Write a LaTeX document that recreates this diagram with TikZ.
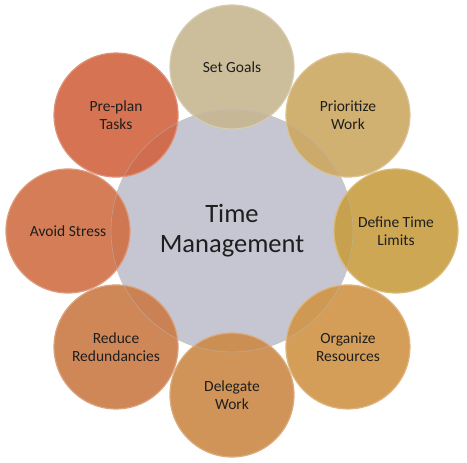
\documentclass[tikz,border=0pt]{standalone}
\usepackage{fontspec}
\setmainfont{Carlito}
\usepackage{tikz}
\usetikzlibrary{calc}

\definecolor{hub}{RGB}{198,198,210}
\definecolor{goals}{RGB}{198,182,144}
\definecolor{prio}{RGB}{204,168,98}
\definecolor{limits}{RGB}{200,157,64}
\definecolor{organ}{RGB}{208,148,70}
\definecolor{deleg}{RGB}{204,136,70}
\definecolor{reduce}{RGB}{203,122,70}
\definecolor{avoid}{RGB}{207,111,68}
\definecolor{preplan}{RGB}{208,100,64}
\definecolor{ink}{RGB}{30,30,30}

\begin{document}
\begin{tikzpicture}[x=1pt,y=1pt,text=ink]
  \tikzstyle{hubcircle}=[circle,draw=white!80!black,line width=1.2pt,fill=hub,
                         minimum size=242pt,inner sep=0pt,align=center,
                         font=\fontsize{26.5}{30}\selectfont]
  \tikzstyle{petal}=[circle,line width=1.2pt,fill opacity=0.9,text opacity=1,
                     minimum size=124pt,inner sep=0pt,align=center,
                     font=\fontsize{15.5}{18}\selectfont]

  \useasboundingbox (-232,-232) rectangle (235,231);

  \node[hubcircle] (tm) at (0,0) {Time\\Management};

  \node[petal,fill=goals,draw=goals!70!white]     (goals)   at (90:164)  {Set Goals};
  \node[petal,fill=prio,draw=prio!70!white]       (prio)    at (45:164)  {Prioritize\\Work};
  \node[petal,fill=limits,draw=limits!70!white]   (limits)  at (0:164)   {Define Time\\Limits};
  \node[petal,fill=organ,draw=organ!70!white]     (organ)   at (-45:164) {Organize\\Resources};
  \node[petal,fill=deleg,draw=deleg!70!white]     (deleg)   at (-90:164) {Delegate\\Work};
  \node[petal,fill=reduce,draw=reduce!70!white]   (reduce)  at (-135:164) {Reduce\\Redundancies};
  \node[petal,fill=avoid,draw=avoid!70!white]     (avoid)   at (180:164) {Avoid Stress};
  \node[petal,fill=preplan,draw=preplan!70!white] (preplan) at (135:164) {Pre-plan\\Tasks};

  % hub rim showing through the petals
  \draw[white!75!black,line width=0.8pt,draw opacity=0.45] (tm) circle (121pt);

\end{tikzpicture}
\end{document}
